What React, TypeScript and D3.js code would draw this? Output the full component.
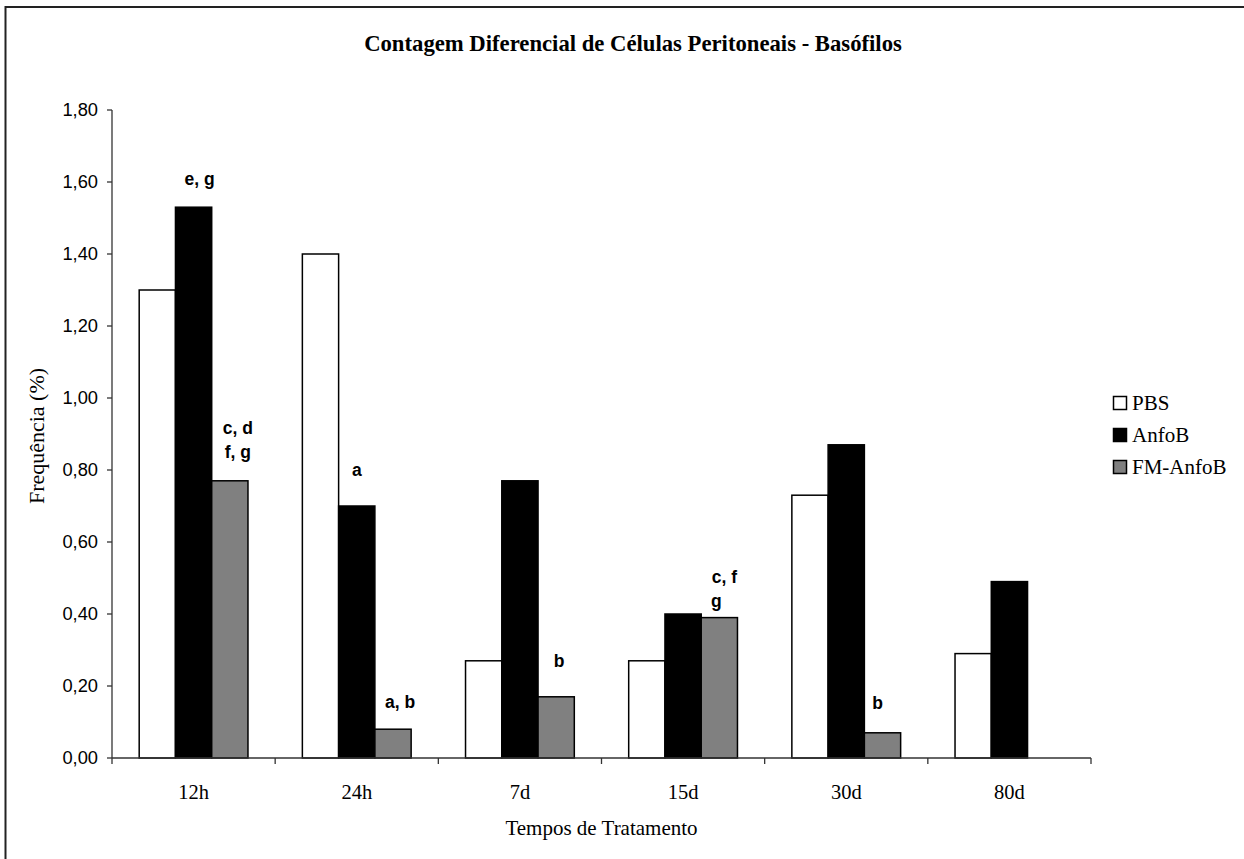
import React from "react";
import * as d3 from "d3";

const categories = ["12h", "24h", "7d", "15d", "30d", "80d"];
const seriesNames = ["PBS", "AnfoB", "FM-AnfoB"];
const pbsValues = [1.3, 1.4, 0.27, 0.27, 0.73, 0.29];
const anfoBValues = [1.53, 0.7, 0.77, 0.4, 0.87, 0.49];
const fmAnfoBValues = [0.77, 0.08, 0.17, 0.39, 0.07, null];
const yTicks = [0, 0.2, 0.4, 0.6, 0.8, 1.0, 1.2, 1.4, 1.6, 1.8];
const seriesColors = ["#ffffff", "#000000", "#808080"];

// significance labels: [category, series, text lines]
const annotations: { cat: string; series: string; lines: string[] }[] = [
  { cat: "12h", series: "AnfoB", lines: ["e, g"] },
  { cat: "12h", series: "FM-AnfoB", lines: ["c, d", "f, g"] },
  { cat: "24h", series: "AnfoB", lines: ["a"] },
  { cat: "24h", series: "FM-AnfoB", lines: ["a, b"] },
  { cat: "7d", series: "FM-AnfoB", lines: ["b"] },
  { cat: "15d", series: "FM-AnfoB", lines: ["c, f", "g"] },
  { cat: "30d", series: "FM-AnfoB", lines: ["b"] },
];
// layout offsets for the annotation text (dx from bar centre, dy above bar top per line)
const annotationLayout: { dx: number[]; dy: number[] }[] = [
  { dx: [6], dy: [22] },
  { dx: [8, 8], dy: [47, 23] },
  { dx: [0], dy: [30] },
  { dx: [7], dy: [21] },
  { dx: [3], dy: [30] },
  { dx: [5, -3], dy: [35, 11] },
  { dx: [-5], dy: [24] },
];

const W = 1244;
const H = 859;
const left = 112;
const right = 1091;
const top = 110;
const bottom = 758;

export default function App() {
  const allSeries = [pbsValues, anfoBValues, fmAnfoBValues];
  const y = d3.scaleLinear().domain([0, 1.8]).range([bottom, top]);
  const x0 = d3.scaleBand<string>().domain(categories).range([left, right]).paddingInner(0).paddingOuter(0);
  const x1 = d3
    .scaleBand<string>()
    .domain(seriesNames)
    .range([0, x0.bandwidth()])
    .paddingInner(0)
    .paddingOuter(0.75);
  const fmt = (v: number) => d3.format(".2f")(v).replace(".", ",");
  const serif = "'Liberation Serif', 'Times New Roman', serif";
  const sans = "'Liberation Sans', Arial, sans-serif";
  const axisColor = "#333";

  return (
    <svg
      width={W}
      height={H}
      style={{ position: "absolute", left: 0, top: 0, background: "#fff" }}
    >
      <rect x={0} y={0} width={W} height={H} fill="#fff" />
      <rect x={5.5} y={7} width={W + 20} height={H + 20} fill="none" stroke="#222" strokeWidth={2} />
      <text
        x={633}
        y={51}
        textAnchor="middle"
        fontFamily={serif}
        fontWeight="bold"
        fontSize={22.7}
        fill="#000"
      >
        Contagem Diferencial de Células Peritoneais - Basófilos
      </text>

      {/* bars */}
      {categories.map((c, ci) =>
        seriesNames.map((s, si) => {
          const v = allSeries[si][ci];
          if (v === null || v === undefined) return null;
          const bx = (x0(c) as number) + (x1(s) as number);
          return (
            <rect
              key={c + s}
              x={bx}
              y={y(v)}
              width={x1.bandwidth()}
              height={y(0) - y(v)}
              fill={seriesColors[si]}
              stroke="#000"
              strokeWidth={1.5}
            />
          );
        })
      )}

      {/* y axis */}
      <line x1={left} x2={left} y1={top} y2={bottom} stroke={axisColor} strokeWidth={1.3} />
      {yTicks.map((t) => (
        <g key={t}>
          <line x1={left - 5} x2={left} y1={y(t)} y2={y(t)} stroke={axisColor} strokeWidth={1.3} />
          <text
            x={98}
            y={y(t)}
            dy="0.35em"
            textAnchor="end"
            fontFamily={sans}
            fontSize={18.3}
            fill="#000"
          >
            {fmt(t)}
          </text>
        </g>
      ))}

      {/* x axis */}
      <line x1={left} x2={right} y1={bottom} y2={bottom} stroke={axisColor} strokeWidth={1.3} />
      {[...categories.map((c) => x0(c) as number), right].map((xv, i) => (
        <line key={i} x1={xv} x2={xv} y1={bottom} y2={bottom + 6} stroke={axisColor} strokeWidth={1.3} />
      ))}
      {categories.map((c) => (
        <text
          key={c}
          x={(x0(c) as number) + x0.bandwidth() / 2}
          y={799}
          textAnchor="middle"
          fontFamily={serif}
          fontSize={20.5}
          fill="#000"
        >
          {c}
        </text>
      ))}
      <text
        x={(left + right) / 2}
        y={835}
        textAnchor="middle"
        fontFamily={serif}
        fontSize={21}
        fill="#000"
      >
        Tempos de Tratamento
      </text>
      <text
        transform={`translate(44, ${(top + bottom) / 2 + 2}) rotate(-90)`}
        textAnchor="middle"
        fontFamily={serif}
        fontSize={22}
        fill="#000"
      >
        Frequência (%)
      </text>

      {/* annotations */}
      {annotations.map((a, ai) => {
        const si = seriesNames.indexOf(a.series);
        const ci = categories.indexOf(a.cat);
        const v = allSeries[si][ci] as number;
        const cx = (x0(a.cat) as number) + (x1(a.series) as number) + x1.bandwidth() / 2;
        const lay = annotationLayout[ai];
        return a.lines.map((ln, li) => (
          <text
            key={ai + "-" + li}
            x={cx + lay.dx[li]}
            y={y(v) - lay.dy[li]}
            textAnchor="middle"
            fontFamily={sans}
            fontWeight="bold"
            fontSize={17.5}
            fill="#000"
          >
            {ln}
          </text>
        ));
      })}

      {/* legend */}
      {seriesNames.map((s, i) => (
        <g key={s}>
          <rect
            x={1113.5}
            y={403 + i * 32 - 6.5}
            width={13}
            height={13}
            fill={seriesColors[i]}
            stroke="#000"
            strokeWidth={1.5}
          />
          <text x={1132} y={403 + i * 32 + 7} fontFamily={serif} fontSize={21} fill="#000">
            {s}
          </text>
        </g>
      ))}
    </svg>
  );
}
